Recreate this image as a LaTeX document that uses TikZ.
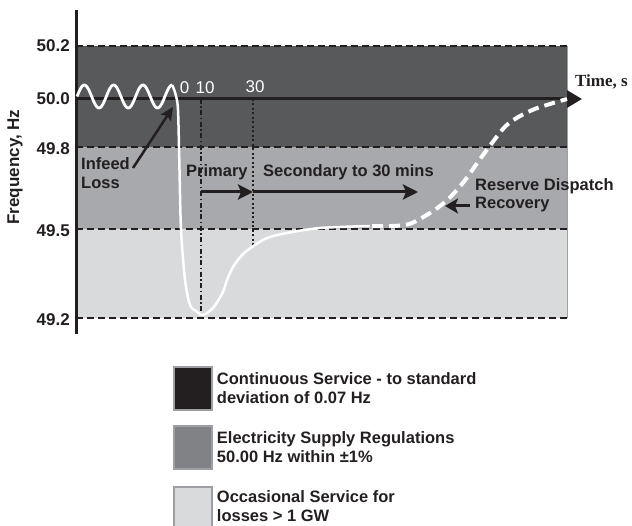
\documentclass[tikz,border=0pt]{standalone}
\usepackage{fontspec}
\setsansfont{Liberation Sans}
\newfontfamily\timesfont{Liberation Serif}
\usetikzlibrary{arrows, arrows.meta, positioning}

\definecolor{inkblack}{HTML}{231F20}
\definecolor{darkband}{HTML}{58595B}
\definecolor{midband}{HTML}{A7A9AC}
\definecolor{lightband}{HTML}{D9DADC}
\definecolor{midkey}{HTML}{808285}
\definecolor{keyrim}{HTML}{9D9FA2}

\tikzset{
  lbl/.style     = {font=\sffamily\bfseries\fontsize{16.5bp}{19bp}\selectfont, inner sep=0pt, text=inkblack},
  axislbl/.style = {font=\sffamily\bfseries\fontsize{17bp}{20bp}\selectfont, inner sep=0pt, text=inkblack},
  ticklbl/.style = {font=\sffamily\fontsize{17bp}{20bp}\selectfont, inner sep=0pt, text=white},
  limit/.style   = {draw=inkblack, line width=2.2bp, dash pattern=on 7bp off 4bp},
  keybox/.style  = {draw=keyrim, line width=1.5bp, minimum width=38bp, minimum height=43bp, inner sep=0pt},
  keytext/.style = {lbl, align=left, right=4bp of #1},
  arrowline/.style = {draw=inkblack, line width=3bp, -{Stealth[length=15bp, width=15bp, inset=3bp]}},
}

\begin{document}
\begin{tikzpicture}[x=1bp, y=-1bp]

\useasboundingbox (0,0) rectangle (632,526);

% bands
\fill [darkband ] (76, 46) rectangle (567,147);
\fill [midband  ] (76,147) rectangle (567,229);
\fill [lightband] (76,229) rectangle (567,318);
\draw [keyrim, line width=1bp] (567,46) -- (567,318);

\foreach \yy in {46, 147, 229, 318}
  \draw [limit] (76,\yy) -- (567,\yy);

% markers at 10 s and 30 s
\coordinate (m10top) at (201, 99);
\coordinate (m10bot) at (201,318);
\coordinate (m30top) at (253, 99);
\coordinate (m30bot) at (253,246);
\draw [inkblack, line width=2bp, dash pattern=on 5bp off 2.5bp on 1.5bp off 2.5bp] (m10top) -- (m10bot);
\draw [inkblack, line width=2.5bp, dash pattern=on 2bp off 2.5bp] (m30top) -- (m30bot);

% axes
\coordinate (origin) at (76, 99);
\coordinate (tend)   at (582, 99);
\draw [inkblack, line width=3bp] (76,10) -- (76,334);
\path [draw=inkblack, line width=3bp, -{Triangle[length=15bp, width=17bp]}] (origin) -- (tend);

% frequency trace
\draw [white, line width=2.8bp] plot [variable=\t, domain=0:3.25, samples=90] ({77 + 29.3*\t}, {96.5 - 11.5*sin(360*\t)});
\draw [white, line width=2.5bp] plot [smooth, tension=0.5] coordinates {
  (172.2,85) (175.5,94) (178,110) (179.5,170) (181,229) (185,280) (190,305)
  (196,311) (203,315) (213,308) (223,292) (227,280) (233,267) (242,255)
  (252,247) (267,238) (287,233) (320,228) (370,226)};
\draw [white, line width=4bp, dash pattern=on 11bp off 6bp] plot [smooth, tension=0.6] coordinates {
  (372,226) (405,225) (425,216) (445,202) (462,184) (478,162) (492,143)
  (508,124) (530,111) (550,104) (567,99)};

% y labels
\node [axislbl, anchor=east] (f502) at (70, 46) {50.2};
\node [axislbl, anchor=east] (f500) at (70, 99) {50.0};
\node [axislbl, anchor=east] (f498) at (70,149) {49.8};
\node [axislbl, anchor=east] (f495) at (70,231) {49.5};
\node [axislbl, anchor=east] (f492) at (70,320) {49.2};
\node [axislbl, rotate=90] (freq) at (15,167) {Frequency, Hz};

% time labels
\node [ticklbl] (s0)  at (184.5,88) {0};
\node [ticklbl] (s10) at (205,88)   {10};
\node [ticklbl] (s30) at (255,86.5) {30};
\node [font=\timesfont\bfseries\fontsize{17bp}{20bp}\selectfont, inner sep=0pt, anchor=base west, text=inkblack] (time) at (575,87) {Time, s};

% event labels
\node [lbl, align=left, anchor=north west] (infeed) at (81,157) {Infeed\\Loss};
\coordinate (losstail) at (133,168);
\coordinate (losstip)  at (173,107);
\path [draw=inkblack, line width=2.5bp, -{Stealth[length=13bp, width=12bp, inset=2.5bp]}] (losstail) -- (losstip);

\node [lbl, anchor=base west] (primary)   at (186,177) {Primary};
\node [lbl, anchor=base west] (secondary) at (263,177) {Secondary to 30 mins};
\coordinate (p10) at (201,192);
\coordinate (p30) at (253,192);
\coordinate (pend) at (418,192);
\path [arrowline] (p10) -- (p30);
\path [arrowline] (p30) -- (pend);

\node [lbl, align=left, anchor=north west, font=\sffamily\bfseries\fontsize{16.5bp}{18bp}\selectfont] (reserve) at (475,178) {Reserve Dispatch\\Recovery};
\coordinate (rtail) at (470,206);
\coordinate (rtip)  at (445,206);
\path [arrowline, -{Stealth[length=13bp, width=15bp, inset=3bp]}] (rtail) -- (rtip);

% key
\node [keybox, fill=inkblack] (k1) at (193,388.5) {};
\node [keybox, fill=midkey  ] (k2) at (193,447.5) {};
\node [keybox, fill=lightband, minimum height=44bp] (k3) at (193,509) {};
\node [keytext=k1] (k1txt) {Continuous Service - to standard\\deviation of 0.07 Hz};
\node [keytext=k2] (k2txt) {Electricity Supply Regulations\\50.00 Hz within ±1\%};
\node [keytext=k3, yshift=2.5bp] (k3txt) {Occasional Service for\\losses > 1 GW};

\end{tikzpicture}
\end{document}
